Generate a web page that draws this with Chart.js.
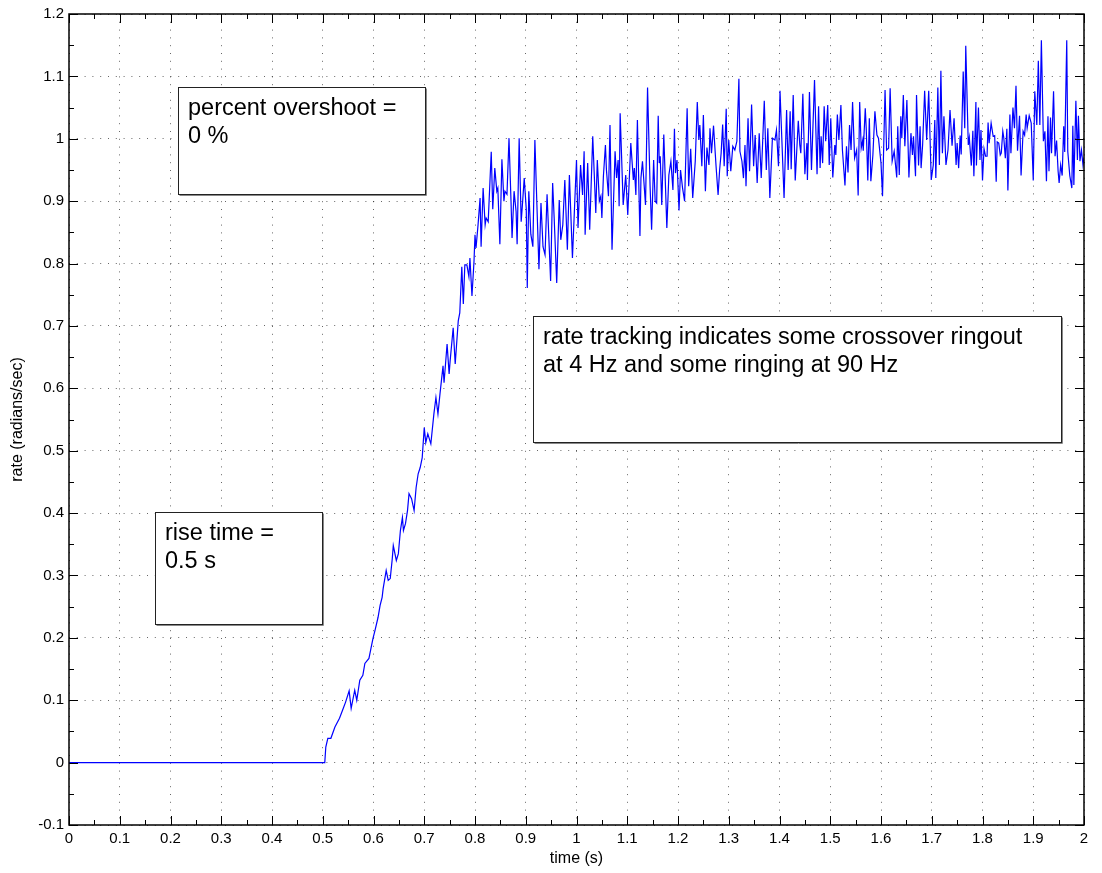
<!DOCTYPE html>
<html>
<head>
<meta charset="utf-8">
<script src="https://cdn.jsdelivr.net/npm/chart.js@4.4.1/dist/chart.umd.min.js"></script>
<style>
html,body{margin:0;padding:0;background:#fff;}
#wrap{width:1102px;height:873px;}
</style>
</head>
<body>
<div id="wrap"><canvas id="c" width="1102" height="873"></canvas></div>
<script>
// ---- data ----
const timeSec = [
  0, 0.504,
  0.506, 0.510, 0.516, 0.524, 0.533, 0.539, 0.545, 0.552, 0.556, 0.563, 0.567, 0.573, 0.579, 0.583, 0.591, 0.595, 0.599,
  0.603, 0.609, 0.613, 0.617, 0.619, 0.625, 0.629, 0.633, 0.637, 0.639, 0.645, 0.649, 0.653, 0.657, 0.659, 0.663, 0.667,
  0.670, 0.675, 0.680, 0.684, 0.688, 0.692, 0.696, 0.700, 0.703, 0.707, 0.713, 0.719, 0.723, 0.727, 0.731, 0.737, 0.739,
  0.745, 0.749, 0.751, 0.757, 0.761, 0.767, 0.770, 0.774, 0.777, 0.780, 0.784, 0.788, 0.790, 0.794, 0.798,
  0.800, 0.802, 0.806, 0.810, 0.812, 0.816, 0.820, 0.822, 0.826, 0.832, 0.835, 0.839, 0.843, 0.845, 0.849, 0.853, 0.857,
  0.859, 0.863, 0.867, 0.871, 0.873, 0.877, 0.881, 0.883, 0.887, 0.891, 0.893, 0.897, 0.901, 0.903, 0.906, 0.910, 0.914,
  0.918, 0.922, 0.926, 0.930, 0.934, 0.938, 0.942,
  0.949, 0.953, 0.956, 0.961, 0.966, 0.969, 0.973, 0.977, 0.982, 0.986, 0.992, 1.000, 1.003, 1.008, 1.012, 1.015, 1.017,
  1.022, 1.026, 1.032, 1.038, 1.041, 1.045, 1.048, 1.050, 1.053, 1.057, 1.059, 1.063, 1.066, 1.070, 1.076, 1.079, 1.082,
  1.084, 1.086, 1.092, 1.097, 1.101, 1.107, 1.112, 1.114, 1.117, 1.120,
  1.125, 1.127, 1.130, 1.136, 1.140, 1.145, 1.148, 1.152, 1.155, 1.158, 1.161, 1.163, 1.165, 1.168, 1.172, 1.178, 1.182,
  1.186, 1.190, 1.193, 1.195, 1.198, 1.202, 1.205, 1.209, 1.213, 1.218, 1.221, 1.225, 1.229, 1.234, 1.238, 1.241, 1.243,
  1.247, 1.250, 1.254, 1.257, 1.261, 1.263, 1.266, 1.270, 1.275, 1.279, 1.282, 1.285, 1.288, 1.291, 1.295, 1.297, 1.300,
  1.304, 1.308, 1.312, 1.316, 1.320, 1.322, 1.326, 1.329, 1.332, 1.334, 1.338, 1.341, 1.345, 1.349, 1.352, 1.356, 1.360,
  1.364, 1.370, 1.374, 1.377, 1.381, 1.386, 1.391, 1.394, 1.398,
  1.401, 1.409, 1.414, 1.417, 1.421, 1.423, 1.427, 1.431, 1.437, 1.440, 1.442, 1.446, 1.450, 1.454, 1.455, 1.459, 1.463,
  1.469, 1.474, 1.477, 1.480, 1.482, 1.485, 1.488, 1.491, 1.495, 1.498, 1.501, 1.505, 1.509, 1.511, 1.514, 1.517, 1.521,
  1.524, 1.529, 1.532, 1.535, 1.538, 1.541, 1.544, 1.548, 1.552, 1.555, 1.558, 1.561, 1.564, 1.565, 1.569, 1.571, 1.574,
  1.577, 1.580, 1.584, 1.588, 1.592, 1.595, 1.600, 1.603, 1.608, 1.611, 1.615, 1.618, 1.622, 1.626, 1.631, 1.633, 1.636,
  1.639, 1.641, 1.644, 1.647, 1.651, 1.655, 1.659, 1.662, 1.664, 1.668, 1.670, 1.674,
  1.677, 1.679, 1.682, 1.686, 1.690, 1.694, 1.699, 1.703, 1.706, 1.708, 1.712, 1.715, 1.718, 1.721, 1.724, 1.728, 1.732,
  1.736, 1.740, 1.744, 1.748, 1.750, 1.753, 1.756, 1.758, 1.762, 1.765, 1.767, 1.772, 1.774, 1.778, 1.781, 1.783, 1.787,
  1.788, 1.792, 1.795, 1.797, 1.800, 1.803, 1.806, 1.809, 1.811, 1.813, 1.817, 1.821, 1.824, 1.827, 1.829, 1.832, 1.835,
  1.837, 1.840, 1.842, 1.845, 1.848, 1.850, 1.854, 1.856, 1.860, 1.863, 1.866, 1.869, 1.873, 1.876, 1.880, 1.883, 1.886,
  1.888, 1.892, 1.896, 1.900, 1.903, 1.907, 1.910, 1.913, 1.916, 1.920, 1.923, 1.926, 1.929, 1.931, 1.934, 1.936, 1.940,
  1.943, 1.946, 1.949, 1.951, 1.954, 1.957, 1.960, 1.962, 1.966, 1.968, 1.972, 1.976, 1.978, 1.980, 1.984, 1.987, 1.989,
  1.992, 1.995, 1.998, 2.000
];
const rate = [
  0, 0,
  0.025, 0.039, 0.039, 0.057, 0.071, 0.084, 0.097, 0.115, 0.087, 0.116, 0.100, 0.132, 0.140, 0.159, 0.167, 0.183, 0.199,
  0.212, 0.233, 0.252, 0.265, 0.279, 0.308, 0.292, 0.295, 0.327, 0.348, 0.324, 0.335, 0.372, 0.393, 0.372, 0.383, 0.404,
  0.431, 0.423, 0.404, 0.441, 0.463, 0.473, 0.489, 0.537, 0.513, 0.527, 0.511, 0.559, 0.585, 0.559, 0.591, 0.636, 0.609,
  0.671, 0.623, 0.644, 0.697, 0.639, 0.708, 0.721, 0.795, 0.735, 0.798, 0.798, 0.779, 0.809, 0.748, 0.803,
  0.846, 0.825, 0.862, 0.905, 0.827, 0.921, 0.862, 0.873, 0.867, 0.979, 0.887, 0.953, 0.916, 0.921, 0.831, 0.967, 0.900,
  0.916, 0.911, 1.001, 0.899, 0.841, 0.916, 0.883, 0.831, 1.001, 0.867, 0.889, 0.937, 0.887, 0.761, 0.916, 0.847, 0.827,
  0.998, 0.894, 0.791, 0.897, 0.827, 0.814, 0.911,
  0.772, 0.929, 0.873, 0.769, 0.902, 0.838, 0.862, 0.934, 0.822, 0.942, 0.809, 0.966, 0.857, 0.958, 0.910, 0.980, 0.846,
  0.961, 0.854, 1.004, 0.881, 0.966, 0.900, 0.908, 0.873, 0.940, 0.990, 0.950, 0.908, 1.022, 0.822, 0.980, 0.937, 0.966,
  0.892, 1.041, 0.894, 0.942, 0.878, 0.993, 0.934, 0.953, 0.910, 1.030,
  0.844, 0.937, 0.964, 0.894, 1.082, 0.924, 0.854, 0.966, 0.900, 0.897, 1.037, 0.961, 0.972, 0.894, 1.007, 0.857, 0.942,
  0.964, 0.918, 1.016, 0.945, 0.966, 0.885, 0.950, 0.921, 0.900, 1.049, 0.924, 0.984, 0.905, 0.964, 1.059, 0.998, 1.022,
  0.956, 1.038, 0.916, 0.986, 0.958, 1.017, 0.977, 1.021, 0.956, 0.910, 0.950, 0.977, 1.023, 0.956, 1.048, 0.940, 0.998,
  0.948, 0.988, 0.982, 0.996, 1.096, 0.980, 0.964, 0.937, 0.990, 0.924, 1.033, 0.948, 1.055, 0.956, 1.006, 0.929, 1.009,
  0.937, 1.061, 0.950, 1.017, 0.905, 1.001, 0.998, 1.014, 0.956,
  1.077, 0.905, 1.046, 0.950, 1.044, 0.951, 1.070, 0.933, 1.029, 0.990, 0.977, 1.072, 0.943, 0.993, 0.934, 1.075, 0.950,
  1.094, 0.943, 1.052, 0.953, 1.004, 0.961, 1.052, 0.996, 1.054, 0.958, 1.033, 0.938, 0.990, 0.974, 1.039, 0.998, 1.054,
  0.982, 0.925, 0.988, 0.946, 1.022, 0.982, 1.059, 0.969, 0.982, 0.909, 1.059, 0.985, 0.998, 0.981, 1.049, 1.015, 0.933,
  1.033, 0.932, 0.974, 1.044, 1.006, 1.001, 0.961, 0.908, 1.078, 0.982, 0.985, 1.081, 0.964, 0.980, 0.938, 1.020, 0.942,
  1.036, 1.001, 1.070, 0.988, 1.062, 0.938, 1.009, 0.974, 1.004, 0.940, 1.070, 0.957,
  1.020, 0.953, 0.990, 1.077, 0.998, 1.077, 0.934, 0.958, 1.030, 0.937, 1.082, 0.958, 1.109, 0.977, 1.036, 0.958, 0.982,
  1.046, 0.989, 1.033, 0.958, 0.993, 0.953, 1.005, 0.975, 1.108, 1.017, 1.149, 0.990, 1.002, 0.957, 1.013, 0.940, 1.059,
  0.957, 1.050, 0.966, 1.014, 0.933, 0.984, 0.972, 0.972, 1.026, 0.993, 1.025, 1.004, 1.005, 0.931, 0.995, 0.993, 0.974,
  0.977, 1.012, 1.001, 0.969, 1.016, 0.917, 1.039, 0.977, 1.050, 1.017, 1.085, 0.981, 1.037, 0.941, 1.012, 1.006, 1.039,
  1.017, 1.037, 1.025, 0.933, 1.076, 1.022, 1.125, 1.022, 1.158, 0.996, 1.012, 0.932, 1.036, 0.948, 1.034, 0.977, 1.076,
  0.972, 0.997, 0.948, 0.929, 0.958, 0.941, 1.020, 0.979, 1.158, 0.980, 0.941, 0.921, 1.021, 0.926, 1.061, 0.966, 1.037,
  0.964, 0.982, 0.958, 0.970
];
const xTickLabels = ['0','0.1','0.2','0.3','0.4','0.5','0.6','0.7','0.8','0.9','1','1.1','1.2','1.3','1.4','1.5','1.6','1.7','1.8','1.9','2'];
const yTickLabels = ['-0.1','0','0.1','0.2','0.3','0.4','0.5','0.6','0.7','0.8','0.9','1','1.1','1.2'];
const notes = [
  { lines: ['percent overshoot =', '0 %'], x0: 0.214, x1: 0.7015, y0: 1.083, y1: 0.912 },
  { lines: ['rise time =', '0.5 s'], x0: 0.1695, x1: 0.4995, y0: 0.402, y1: 0.222 },
  { lines: ['rate tracking indicates some crossover ringout', 'at 4 Hz and some ringing at 90 Hz'], x0: 0.9143, x1: 1.9547, y0: 0.7155, y1: 0.514 }
];

const FONT = "'Liberation Sans', Arial, Helvetica, sans-serif";

const frameAndNotes = {
  id: 'frameAndNotes',
  afterDraw(chart) {
    const { ctx, chartArea: a, scales: { x, y } } = chart;
    ctx.save();
    // inward ticks on all four sides (major every 0.1, minor every 0.05)
    ctx.strokeStyle = '#000';
    ctx.lineWidth = 1;
    ctx.beginPath();
    for (let i = 0; i <= 40; i++) {
      const px = Math.round(x.getPixelForValue(i * 0.05)) + 0.5;
      const len = i % 2 === 0 ? 9 : 5;
      ctx.moveTo(px, a.bottom); ctx.lineTo(px, a.bottom - len);
      ctx.moveTo(px, a.top); ctx.lineTo(px, a.top + len);
    }
    for (let i = 0; i <= 26; i++) {
      const py = Math.round(y.getPixelForValue(-0.1 + i * 0.05)) + 0.5;
      const len = i % 2 === 0 ? 9 : 5;
      ctx.moveTo(a.left, py); ctx.lineTo(a.left + len, py);
      ctx.moveTo(a.right, py); ctx.lineTo(a.right - len, py);
    }
    ctx.stroke();
    ctx.lineWidth = 1.5;
    ctx.strokeRect(a.left, a.top, a.right - a.left, a.bottom - a.top);

    // annotation text boxes
    ctx.font = '23.5px ' + FONT;
    ctx.textBaseline = 'alphabetic';
    ctx.textAlign = 'left';
    notes.forEach(n => {
      const l = Math.round(x.getPixelForValue(n.x0)) + 0.5;
      const r = Math.round(x.getPixelForValue(n.x1)) + 0.5;
      const t = Math.round(y.getPixelForValue(n.y0)) + 0.5;
      const b = Math.round(y.getPixelForValue(n.y1)) + 0.5;
      ctx.fillStyle = '#fff';
      ctx.fillRect(l, t, r - l, b - t);
      ctx.strokeStyle = '#888';
      ctx.lineWidth = 1;
      ctx.beginPath();
      ctx.moveTo(r + 1, t + 1); ctx.lineTo(r + 1, b + 1); ctx.lineTo(l + 1, b + 1);
      ctx.stroke();
      ctx.strokeStyle = '#222';
      ctx.strokeRect(l, t, r - l, b - t);
      ctx.fillStyle = '#000';
      n.lines.forEach((s, k) => ctx.fillText(s, l + 9.5, t + 27 + k * 28));
    });
    ctx.restore();
  }
};

new Chart(document.getElementById('c'), {
  type: 'line',
  data: {
    datasets: [{
      data: timeSec.map((t, i) => ({ x: t, y: rate[i] })),
      borderColor: '#0000ff',
      borderWidth: 1.2,
      pointRadius: 0,
      tension: 0,
      fill: false
    }]
  },
  options: {
    responsive: false,
    animation: false,
    devicePixelRatio: 1,
    layout: { padding: { left: 0, right: 18, top: 12, bottom: 0 } },
    plugins: { legend: { display: false }, tooltip: { enabled: false } },
    scales: {
      x: {
        type: 'linear', min: 0, max: 2,
        afterFit(s) { s.height = 48; },
        ticks: {
          stepSize: 0.1, autoSkip: false, maxRotation: 0, padding: 5, color: '#000',
          font: { family: FONT, size: 15 },
          callback: v => xTickLabels[Math.round(v * 10)]
        },
        grid: { color: 'rgba(0,0,0,0.6)', lineWidth: 1, drawTicks: false },
        border: { display: false, dash: [1, 6.8] },
        title: { display: true, text: 'time (s)', color: '#000', font: { family: FONT, size: 16 }, padding: { top: 0, bottom: 4.4 } }
      },
      y: {
        type: 'linear', min: -0.1, max: 1.2,
        afterFit(s) { s.width = 69; },
        ticks: {
          stepSize: 0.1, autoSkip: false, padding: 5, color: '#000',
          font: { family: FONT, size: 15 },
          callback: v => yTickLabels[Math.round((v + 0.1) * 10)]
        },
        grid: { color: 'rgba(0,0,0,0.6)', lineWidth: 1, drawTicks: false },
        border: { display: false, dash: [1, 6.8] },
        title: { display: true, text: 'rate (radians/sec)', color: '#000', font: { family: FONT, size: 16 }, padding: { top: 8.4, bottom: 0 } }
      }
    }
  },
  plugins: [frameAndNotes]
});
</script>
</body>
</html>
